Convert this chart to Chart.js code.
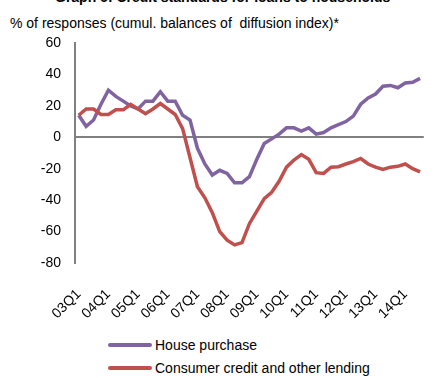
<!DOCTYPE html>
<html>
<head>
<meta charset="utf-8">
<script src="https://cdn.jsdelivr.net/npm/chart.js@4"></script>
<style>
  html, body { margin: 0; padding: 0; background: #fff; }
  body { width: 447px; height: 378px; position: relative; overflow: hidden; font-family: "Liberation Sans", Arial, sans-serif; }
  #titre { position: absolute; left: 55px; top: -11px; font-size: 14px; font-weight: bold; line-height: 16px; white-space: nowrap; }
  #soustitre { position: absolute; left: 10px; top: 15px; font-size: 14px; line-height: 16px; white-space: pre; }
  #wrap { position: absolute; left: 0; top: 0; width: 447px; height: 330px; }
  #legende { position: absolute; left: 108px; top: 333px; font-size: 14px; }
  .item { display: flex; align-items: center; height: 23px; }
  .trait { width: 44px; height: 4px; border-radius: 2px; margin-right: 3px; }
</style>
</head>
<body>
<div id="titre">Graph 6: Credit standards for loans to households</div>
<div id="soustitre">% of responses (cumul. balances of  diffusion index)*</div>
<div id="wrap"><canvas id="grafico"></canvas></div>
<div id="legende"></div>
<script>
const trimestres = [
  '03Q1','03Q2','03Q3','03Q4','04Q1','04Q2','04Q3','04Q4',
  '05Q1','05Q2','05Q3','05Q4','06Q1','06Q2','06Q3','06Q4',
  '07Q1','07Q2','07Q3','07Q4','08Q1','08Q2','08Q3','08Q4',
  '09Q1','09Q2','09Q3','09Q4','10Q1','10Q2','10Q3','10Q4',
  '11Q1','11Q2','11Q3','11Q4','12Q1','12Q2','12Q3','12Q4',
  '13Q1','13Q2','13Q3','13Q4','14Q1','14Q2','14Q3'
];

const habitacao = [
  14, 7, 11, 21, 30, 26, 23, 20,
  18, 23, 23, 29, 23, 23, 14, 11,
  -7, -17, -24, -21, -23, -29, -29, -25,
  -14, -4, -1, 2, 6, 6, 4, 6,
  2, 3, 6, 8, 10, 13.5, 21, 25,
  27.5, 32.5, 33, 31.5, 34.5, 35, 37.5
];

const consumo = [
  14, 18, 18, 14.5, 14.5, 17.5, 17.5, 21,
  18, 15, 18, 21.5, 18, 14.5, 5.5, -13,
  -31.5, -38.5, -48, -60, -65.5, -68.5, -67, -55,
  -47, -39, -35, -28, -19, -14.5, -11, -14,
  -22.5, -23, -19, -18.7, -17, -15.5, -13.5, -17,
  -19, -20.5, -19, -18.5, -17, -20, -22
];

const nomes = ['House purchase', 'Consumer credit and other lending'];
const cores = ['#8064A2', '#C0504D'];

const fonte = { family: '"Liberation Sans", Arial, sans-serif', size: 14 };

const grafico = new Chart(document.getElementById('grafico'), {
  type: 'line',
  data: {
    labels: trimestres,
    datasets: [
      { label: nomes[0], data: habitacao, borderColor: cores[0], backgroundColor: cores[0], order: 1 },
      { label: nomes[1], data: consumo, borderColor: cores[1], backgroundColor: cores[1], order: 0 }
    ]
  },
  options: {
    responsive: true,
    maintainAspectRatio: false,
    animation: false,
    layout: { padding: { top: 43, right: 3, left: 0, bottom: 0 } },
    elements: {
      line: { borderWidth: 3.5, tension: 0 },
      point: { radius: 0 }
    },
    plugins: {
      legend: { display: false },
      tooltip: { enabled: false }
    },
    scales: {
      x: {
        offset: true,
        grid: { display: false },
        border: { display: false },
        ticks: {
          autoSkip: false,
          minRotation: 45,
          maxRotation: 45,
          padding: 15,
          color: '#000',
          font: fonte,
          callback: function (v, i) { return i % 4 === 0 ? trimestres[i] : ''; }
        },
        afterFit: s => { s.height = 67; }
      },
      y: {
        min: -80,
        max: 60,
        border: { display: true, color: '#808080', width: 2 },
        grid: {
          drawTicks: false,
          lineWidth: 2,
          color: c => (c.tick && c.tick.value === 0 ? '#808080' : 'rgba(0,0,0,0)')
        },
        ticks: { stepSize: 20, padding: 14, color: '#000', font: fonte },
        afterFit: s => { s.width = 75; }
      }
    }
  }
});

// legenda em HTML, uma linha por série
const leg = document.getElementById('legende');
grafico.data.datasets.forEach(ds => {
  const linha = document.createElement('div');
  linha.className = 'item';
  linha.innerHTML = '<span class="trait" style="background:' + ds.borderColor + '"></span>' + ds.label;
  leg.appendChild(linha);
});
</script>
</body>
</html>
